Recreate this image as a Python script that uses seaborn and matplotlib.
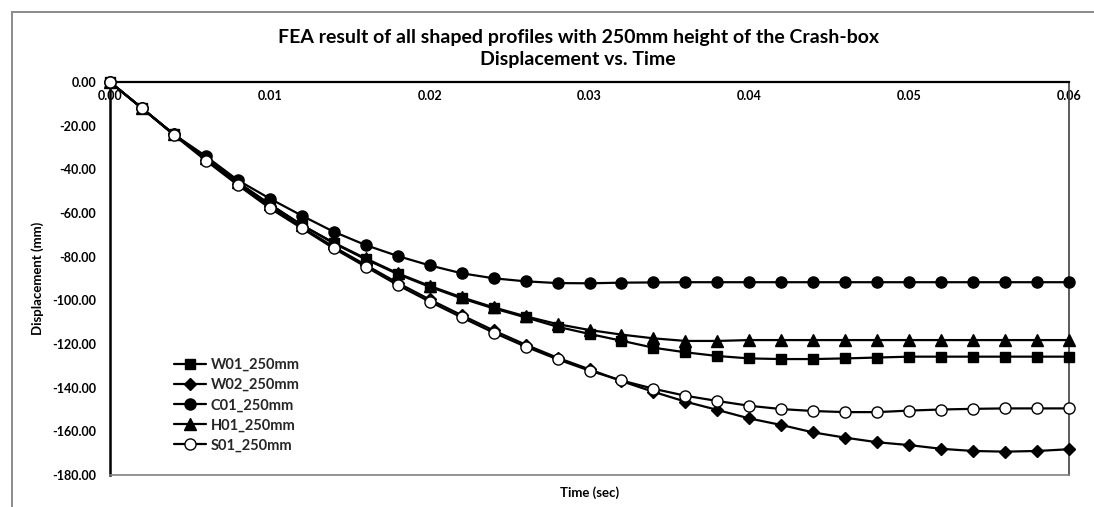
import numpy as np
import pandas as pd
import matplotlib
matplotlib.use("Agg")
import matplotlib.pyplot as plt
from matplotlib.patches import Rectangle
import seaborn as sns

# Sample times (s)
time_s = [0.000, 0.002, 0.004, 0.006, 0.008, 0.010, 0.012, 0.014, 0.016, 0.018,
          0.020, 0.022, 0.024, 0.026, 0.028, 0.030, 0.032, 0.034, 0.036, 0.038,
          0.040, 0.042, 0.044, 0.046, 0.048, 0.050, 0.052, 0.054, 0.056, 0.058,
          0.060]

# Displacement (mm) per profile
w01 = [0, -12, -24, -35, -46, -56, -65.5, -73.9, -81.2, -88.0,
       -93.8, -99.1, -103.7, -107.8, -112.1, -115.4, -118.5, -121.7, -123.8, -125.5,
       -126.6, -126.9, -126.9, -126.6, -126.2, -125.8, -125.8, -125.8, -125.8, -125.8,
       -125.8]
w02 = [0, -12, -24, -35.5, -46.5, -57, -66.5, -75.5, -83.8, -92.0,
       -99.6, -106.8, -113.8, -120.3, -126.3, -131.6, -137.0, -141.9, -146.4, -150.2,
       -154.1, -157.1, -160.5, -162.9, -165.0, -166.3, -168.0, -169.0, -169.3, -169.0,
       -168.2]
c01 = [0, -12, -24, -34, -45, -53.4, -61.2, -68.6, -74.7, -79.7,
       -84.0, -87.6, -89.9, -91.3, -92.1, -92.2, -91.9, -91.8, -91.7, -91.7,
       -91.7, -91.7, -91.7, -91.7, -91.7, -91.7, -91.7, -91.7, -91.7, -91.7,
       -91.7]
h01 = [0, -12, -24, -35, -46, -56, -65.5, -73.6, -80.8, -87.6,
       -93.4, -98.6, -103.2, -107.3, -110.9, -113.6, -115.7, -117.4, -118.6, -118.6,
       -118.2, -118.2, -118.2, -118.2, -118.2, -118.2, -118.2, -118.2, -118.2, -118.2,
       -118.2]
s01 = [0, -12, -24.3, -36, -47.2, -57.8, -67, -76.2, -84.6, -93.0,
       -100.6, -107.8, -114.8, -121.2, -127.0, -132.2, -136.7, -140.5, -143.7, -146.1,
       -148.3, -149.8, -150.7, -151.2, -151.2, -150.5, -150.0, -149.7, -149.5, -149.5,
       -149.5]

series_names = ["W01_250mm", "W02_250mm", "C01_250mm", "H01_250mm", "S01_250mm"]
series_values = [w01, w02, c01, h01, s01]
y_ticks = [0, -20, -40, -60, -80, -100, -120, -140, -160, -180]
x_ticks = [0.00, 0.01, 0.02, 0.03, 0.04, 0.05, 0.06]

# marker, marker size, face colour
styles = {
    "W01_250mm": ("s", 7.2, "black"),
    "W02_250mm": ("D", 6.6, "black"),
    "C01_250mm": ("o", 8.0, "black"),
    "H01_250mm": ("^", 8.2, "black"),
    "S01_250mm": ("o", 8.0, "white"),
}

sns.set_theme(style="white")
plt.rcParams["font.family"] = ["Lato", "DejaVu Sans"]

W, H = 1094, 507
fig = plt.figure(figsize=(W / 100, H / 100), dpi=100)
fig.patch.set_facecolor("white")

# outer chart frame
fig.patches.append(Rectangle((12 / W, -0.1), 1.2, 1 - 12 / H + 0.1,
                             transform=fig.transFigure, fill=False,
                             edgecolor="#8a8a8a", linewidth=1.4))

ax = fig.add_axes([110 / W, (H - 475) / H, (1069 - 110) / W, (475 - 82) / H])
ax.set_facecolor("white")

df = pd.DataFrame({"time": time_s})
for name, vals in zip(series_names, series_values):
    df[name] = vals

for name in series_names:
    mk, ms, fc = styles[name]
    sns.lineplot(data=df, x="time", y=name, ax=ax, color="black", linewidth=1.6,
                 marker=mk, markersize=ms, markerfacecolor=fc,
                 markeredgecolor="black", markeredgewidth=1.0,
                 label=name, clip_on=False)

ax.set_xlim(0, 0.06)
ax.set_ylim(-180, 0)
ax.set_xticks(x_ticks)
ax.set_xticklabels([f"{v:.2f}" for v in x_ticks])
ax.set_yticks(y_ticks)
ax.set_yticklabels([f"{v:.2f}" for v in y_ticks])

# x axis crosses at y = 0 (top of the plot area)
ax.spines["bottom"].set_position(("data", 0))
ax.spines["bottom"].set_color("black")
ax.spines["bottom"].set_linewidth(1.6)
ax.spines["left"].set_color("black")
ax.spines["left"].set_linewidth(1.8)
ax.spines["top"].set_position(("data", -180))
ax.spines["top"].set_color("#808080")
ax.spines["top"].set_linewidth(1.2)
ax.spines["right"].set_color("#404040")
ax.spines["right"].set_linewidth(1.2)
for s in ax.spines.values():
    s.set_visible(True)
    s.set_zorder(1)

ax.tick_params(axis="x", length=0, pad=6, labelsize=9, colors="black")
ax.tick_params(axis="y", length=0, pad=10, labelsize=9, colors="black")
for lbl in ax.get_xticklabels() + ax.get_yticklabels():
    lbl.set_fontweight("bold")

ax.set_xlabel("Time (sec)", fontsize=9.5, fontweight="bold", color="black")
ax.xaxis.set_label_coords(0.5, -0.03)
ax.set_ylabel("Displacement (mm)", fontsize=9.5, fontweight="bold", color="black")
ax.yaxis.set_label_coords(-0.069, 0.5)

ax.grid(False)

handles, labels = ax.get_legend_handles_labels()
leg = ax.legend(handles, labels, loc="upper left",
                bbox_to_anchor=((174 - 110) / (1069 - 110), (475 - 358) / (475 - 82)),
                frameon=False, borderpad=0, borderaxespad=0,
                handlelength=2.2, handletextpad=0.3, labelspacing=0.42,
                prop={"size": 10.5, "weight": "bold"})

fig.text(578 / W, 1 - 37 / H, "FEA result of all shaped profiles with 250mm height of the Crash-box",
         ha="center", va="center", fontsize=14, fontweight="bold", color="black")
fig.text(578 / W, 1 - 60 / H, "Displacement vs. Time",
         ha="center", va="center", fontsize=14, fontweight="bold", color="black")

fig.savefig("out.png", dpi=100, facecolor="white")
